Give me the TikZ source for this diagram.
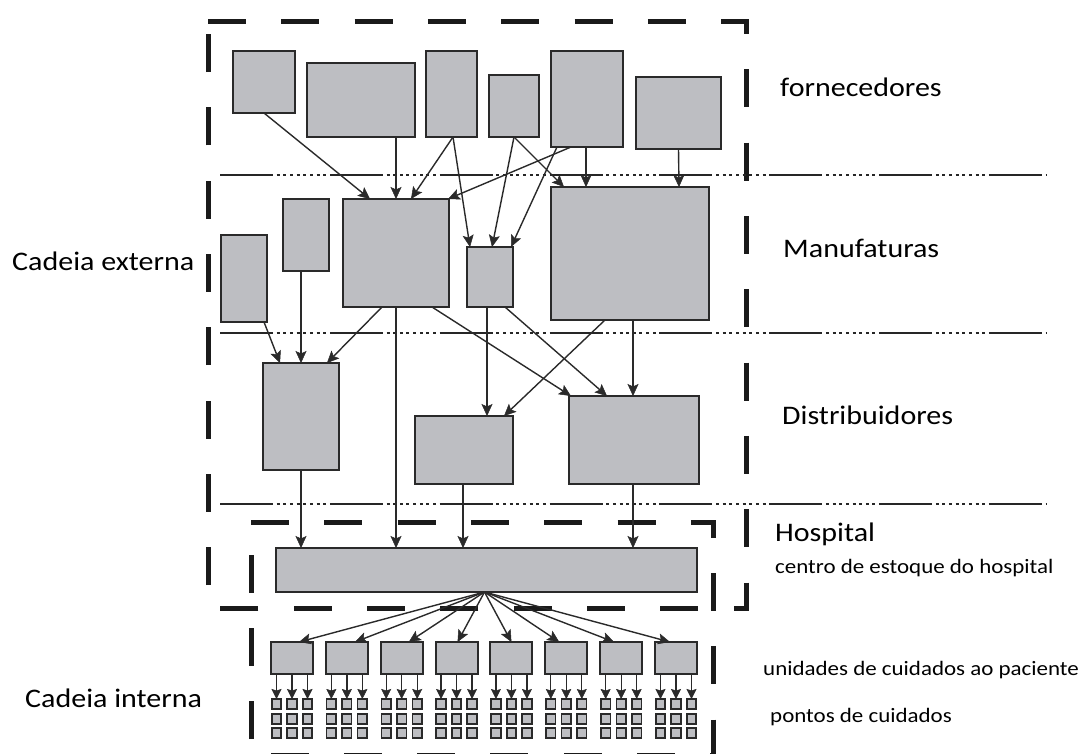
\documentclass[tikz,border=0pt]{standalone}
\usepackage{fontspec}
\setmainfont{Carlito}[FakeStretch=1.12]
\usetikzlibrary{arrows.meta}
\definecolor{boxfill}{HTML}{BDBEC2}
\definecolor{boxline}{HTML}{2A2A2A}
\definecolor{dashcol}{HTML}{1A1A1A}
\begin{document}
\begin{tikzpicture}[x=1pt,y=-1pt,
  box/.style={draw=boxline, fill=boxfill, line width=2pt, inner sep=0pt, outer sep=0pt},
  sq/.style={draw=boxline, fill=boxfill, line width=1.7pt, inner sep=0pt, outer sep=0pt, minimum width=9.5pt, minimum height=10pt},
  arr/.style={draw=boxline, line width=1.4pt, -{Stealth[length=12pt,width=11pt,inset=2.5pt,line width=0.5pt]}},
  arrs/.style={draw=boxline, line width=1.3pt, -{Stealth[length=10pt,width=10pt,inset=1.5pt,line width=0.5pt]}},
  bigdash/.style={draw=dashcol, line width=5pt, dash pattern=on 38pt off 35.3pt},
  sepline/.style={draw=black!85, line width=1.8pt, dash pattern=on 53pt off 3.65pt on 3pt off 3.65pt on 3pt off 3.65pt on 3pt off 3.65pt on 3pt off 3.65pt on 3pt off 3.65pt on 3pt off 3.65pt on 3pt off 3.65pt on 3pt off 3.65pt},
  biglbl/.style={anchor=base west, inner sep=0pt, font=\fontsize{26.8}{30}\selectfont},
  smalllbl/.style={anchor=base west, inner sep=0pt, font=\fontsize{20.5}{24}\selectfont}]
\useasboundingbox (0,0) rectangle (1086,753);

% dashed chain boundaries
\draw[bigdash] (208,21) -- (746,21) -- (746,608) -- (208,608) -- cycle;
\draw[bigdash] (251,522) -- (713,522) -- (713,755) -- (251,755) -- cycle;

% level separators
\draw[sepline] (220,175) -- (1047,175);
\draw[sepline] (220,333) -- (1047,333);
\draw[sepline] (220,504) -- (1047,504);

% fornecedores
\node[box, minimum width=62pt, minimum height=62pt] (F1) at (264,82) {};
\node[box, minimum width=108pt, minimum height=74pt] (F2) at (361,100) {};
\node[box, minimum width=51pt, minimum height=86pt] (F3) at (451.5,94) {};
\node[box, minimum width=50pt, minimum height=62pt] (F4) at (514,106) {};
\node[box, minimum width=72pt, minimum height=96pt] (F5) at (587,99) {};
\node[box, minimum width=85pt, minimum height=72pt] (F6) at (678.5,113) {};

% manufaturas
\node[box, minimum width=46pt, minimum height=87pt] (M1) at (244,278.5) {};
\node[box, minimum width=46pt, minimum height=72pt] (M2) at (306,235) {};
\node[box, minimum width=106pt, minimum height=108pt] (M3) at (396,253) {};
\node[box, minimum width=46pt, minimum height=60pt] (M4) at (490,277) {};
\node[box, minimum width=158pt, minimum height=133pt] (M5) at (630,253.5) {};

% distribuidores
\node[box, minimum width=76pt, minimum height=107pt] (D1) at (301,416.5) {};
\node[box, minimum width=98pt, minimum height=68pt] (D2) at (464,450) {};
\node[box, minimum width=130pt, minimum height=88pt] (D3) at (634,440) {};

% hospital
\node[box, minimum width=421pt, minimum height=44pt] (H) at (486.5,570) {};

% arrows fornecedores -> manufaturas
\draw[arr] (F1.south) -- ([xshift=-26pt]M3.north);
\draw[arr] ([xshift=35pt]F2.south) -- (M3.north);
\draw[arr] ([xshift=1.5pt]F3.south) -- ([xshift=15pt]M3.north);
\draw[arr] ([xshift=1.5pt]F3.south) -- ([xshift=-20pt]M4.north);
\draw[arr] (F4.south) -- ([xshift=2pt]M4.north);
\draw[arr] (F4.south) -- ([xshift=-66pt]M5.north);
\draw[arr] ([xshift=-16pt]F5.south) -- ([xshift=52pt]M3.north);
\draw[arr] ([xshift=-30pt]F5.south) -- ([xshift=21pt]M4.north);
\draw[arr] ([xshift=-1pt]F5.south) -- ([xshift=-44pt]M5.north);
\draw[arr] (F6.south) -- ([xshift=49pt]M5.north);

% arrows manufaturas -> distribuidores / hospital
\draw[arr] ([xshift=20pt]M1.south) -- ([xshift=-21pt]D1.north);
\draw[arr] ([xshift=-5pt]M2.south) -- (D1.north);
\draw[arr] ([xshift=-14pt]M3.south) -- ([xshift=26pt]D1.north);
\draw[arr] (M3.south) -- ([xshift=-90.5pt]H.north);
\draw[arr] ([xshift=36pt]M3.south) -- ([xshift=-63pt]D3.north);
\draw[arr] ([xshift=-3pt]M4.south) -- ([xshift=23pt]D2.north);
\draw[arr] ([xshift=15pt]M4.south) -- ([xshift=-27pt]D3.north);
\draw[arr] ([xshift=-25pt]M5.south) -- ([xshift=40pt]D2.north);
\draw[arr] ([xshift=3pt]M5.south) -- ([xshift=-1pt]D3.north);

% arrows distribuidores -> hospital
\draw[arr] (D1.south) -- ([xshift=-185.5pt]H.north);
\draw[arr] ([xshift=-1pt]D2.south) -- ([xshift=-23.5pt]H.north);
\draw[arr] ([xshift=-1pt]D3.south) -- ([xshift=146.5pt]H.north);

% internal chain
\foreach \i/\off in {0/7,1/8,2/7,3/1,4/0,5/-7,6/-7,7/-6} {
  \pgfmathsetmacro\cx{292+\i*54.857}
  \node[box, minimum width=42pt, minimum height=32pt] (U\i) at (\cx,658) {};
  \draw[arr] ([xshift=-2pt]H.south) -- ([xshift=\off pt]U\i.north);
  \foreach \j/\dx in {a/-15.5,b/0,c/15.5} {
    \node[sq] (S\i\j1) at (\cx+\dx,704) {};
    \node[sq] (S\i\j2) at (\cx+\dx,719) {};
    \node[sq] (S\i\j3) at (\cx+\dx,733) {};
    \draw[arrs] ([xshift=\dx pt]U\i.south) -- (S\i\j1.north);
  }
}

% labels
\node[biglbl] (lf) at (780,96) {fornecedores};
\node[biglbl] (lm) at (783,257) {Manufaturas};
\node[biglbl] (ld) at (782,424) {Distribuidores};
\node[biglbl] (lh) at (775,541) {Hospital};
\node[smalllbl] (lc) at (775,573) {centro de estoque do hospital};
\node[smalllbl] (lu) at (763,675) {unidades de cuidados ao paciente};
\node[smalllbl] (lp) at (770,722) {pontos de cuidados};
\node[biglbl] (le) at (12,270) {Cadeia externa};
\node[biglbl] (li) at (25,707) {Cadeia interna};
\end{tikzpicture}
\end{document}
